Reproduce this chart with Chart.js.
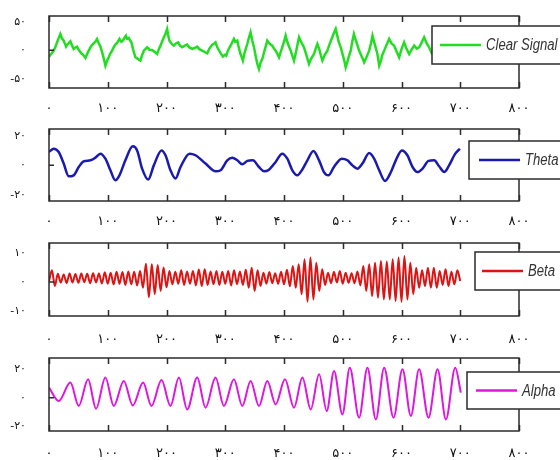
<!DOCTYPE html>
<html>
<head>
<meta charset="utf-8">
<script src="https://cdn.jsdelivr.net/npm/chart.js@4.4.0/dist/chart.umd.min.js"></script>
<style>
  body { margin: 0; background: #fff; }
  #wrap { position: relative; width: 560px; height: 460px; overflow: hidden; }
  canvas { position: absolute; left: 0; }
</style>
</head>
<body>
<div id="wrap">
  <canvas id="c1" width="560" height="118" style="top:0px"></canvas>
  <canvas id="c2" width="560" height="118" style="top:113px"></canvas>
  <canvas id="c3" width="560" height="118" style="top:227px"></canvas>
  <canvas id="c4" width="560" height="118" style="top:342px"></canvas>
</div>
<script>
// sample index on x, amplitude on y
const xTicks = [0, 100, 200, 300, 400, 500, 600, 700, 800];

const clearTicks = [-50, 0, 50];
const thetaTicks = [-20, 0, 20];
const betaTicks = [-10, 0, 10];
const alphaTicks = [-20, 0, 20];

const clearSignal = [
    [0,-11.1],[4,-6],[8,-0.6],[11,6],[13.6,13.9],[16,20],[19.3,28.5],[22,21],[25,16.8],[27,12],[29,6.4],
    [32,11],[36.4,15.7],[39,9],[42,2.3],[45,5],[47.7,6.4],[51,0],[55,-5.3],[58,-8],[62,-13.5],[66,-4],
    [70.5,5.2],[73,9],[76,12.2],[79,15],[81.8,19.8],[84,14],[87.5,6.4],[90,-2],[92,-9.4],[94,-18],[96,-26.9],
    [99,-18],[101.7,-12.3],[104,-6],[107.4,-0.6],[110,5],[113,9.9],[116,13],[119.9,19.8],[123,15],[125.6,16.8],
    [128,21],[131,25.6],[133,20],[135.8,21.5],[138,17],[140.3,13.9],[143,2],[145,-5],[147,-12.3],[151,-15],
    [155.7,-18.1],[158,-10],[161.4,-0.6],[164,2],[167,5.2],[171,1],[175.6,0.5],[180,-3],[184,-6.5],[187,2],
    [189.8,8.1],[192,14],[195.5,22.7],[198,28],[201,37.3],[203,26],[205,16.8],[209,11],[212.5,8.1],[216,12],
    [219.9,13.9],[223,8],[226.7,5.2],[231,8],[235,9.9],[239,5],[243.8,2.3],[248,4],[252.3,6.4],[256,2],
    [260.8,-0.6],[265,-3],[269.3,-5.3],[273,3],[277.8,9.9],[280,11],[283.5,13.9],[286,6],[289,0.5],[292,-5],
    [296,-11.1],[299,-8],[301.7,-9.4],[304,-2],[307.4,5.2],[311,12],[314.8,19.8],[317,15],[320.5,16.8],[323,5],
    [326,-6.5],[328,-12],[330,-18.1],[333,-4],[337.5,11],[340,21],[343,31.4],[346,17],[348.9,5.2],[351,-6],
    [353.4,-18.1],[355,-25],[357.4,-32.7],[360,-22],[363,-15.2],[367,0],[371.6,16.8],[375,12],[380,8.1],[383,3],
    [385.8,-0.6],[389,-7],[391.5,-12.3],[394,-4],[397,5.2],[400,15],[402.8,25.6],[405,17],[408,8],[411.4,-0.6],
    [414,-9],[417,-18.1],[420,-5],[423,10],[425.6,22.7],[429,15],[434,5.2],[438,-8],[442.6,-24],[446,-15],
    [451,-6.5],[454,3],[456.8,11],[460,2],[463,-10],[465.3,-18.1],[469,-9],[473.9,-0.6],[477,9],[481,19.8],
    [484,28],[488,37.3],[491,24],[493,15],[496.6,5.2],[500,-8],[503,-20],[505,-29.8],[508,-20],[510,-12],
    [513.6,-0.6],[516,14],[519,28.5],[522,18],[525,9],[527.8,-0.6],[531,-8],[534,-15],[536.4,-21],[540,-13],
    [545,-0.6],[548,12],[550.6,25.6],[553,16],[556,5],[559,-6.5],[562,-26.9],[565,-18],[567,-9],[570.5,-0.6],
    [574,8],[579,19.8],[583,12],[587.5,8.1],[592,-3],[596,-12.3],[600,2],[604.5,13.9],[608,4],[613,-6.5],
    [617,1],[621.6,8.1],[626,3],[630,5.2],[634,13],[638.6,22.7],[643,12],[647,5.2],[651,-4],[655.7,-12.3],
    [665,0],[675,12],[688,-6],[700,4]
];

const theta = [
    [0,9.0],[8,11.2],[16.5,9.0],[25,1.2],[33.5,-7.4],[42,-6.7],[50.6,-1.1],[59,2.7],[70.5,3.4],[79,5.2],
    [87.5,7.9],[96,4.5],[104.5,-3.3],[113,-10.1],[119.9,-6.7],[130,3.4],[142.6,12.8],[150,10.1],[158.5,-2.2],
    [168.8,-9.6],[178.4,0],[191.5,10.1],[198.3,6.8],[206.8,-3.3],[215.3,-8.9],[223.9,-1.1],[239.2,7.9],
    [249.4,6.8],[266.5,1.2],[283.5,-4.0],[292,-3.3],[303.4,3.4],[312,5.2],[320.5,3.4],[329,0.7],[337.5,3.0],
    [347,3.4],[357.4,-1.1],[366,-4.0],[374.4,-2.9],[385.8,2.3],[397,7.9],[405.7,4.5],[414.2,-3.3],[422.7,-6.7],
    [431,-2.9],[439.8,3.4],[450,9.7],[459.7,3.4],[468,-4.5],[475.6,-6.7],[485,-1.1],[498.3,4.5],[508,3.4],
    [516.5,0],[525,-2.2],[533.5,1.2],[545,8.3],[553.4,4.5],[562,-3.3],[572,-10.5],[582,-4.5],[590.3,3.4],
    [600.6,10.1],[610,6.8],[618.8,-1.1],[627,-4.5],[635.8,-2.2],[646,3.0],[655.7,3.4],[664,-0.6],[672.7,-4.5],
    [681,0],[691.5,7.9],[699.4,11.2]
];

// beta read as one value every 5 samples (alternating crest / trough)
const betaStep = 5;
const beta = [
    0.3,
    4.0,-1.4, 2.8,-0.2, 2.6,-0.4, 2.9,-0.2, 2.7,-0.3, 2.9,-0.1, 2.8,-0.4, 3.0,-0.2, 2.9,-0.5, 3.3,-0.6,
    3.2,-0.8, 3.5,-0.6, 3.4,-1.0, 3.6,-0.8, 3.5,-1.2, 3.8,-2.0, 6.3,-5.2, 6.1,-4.2, 5.8,-3.1, 5.0,-1.8,
    3.8,-0.8, 3.5,-0.6, 4.0,-1.0, 3.6,-0.6, 3.8,-1.2, 4.3,-1.4, 4.4,-1.0, 3.6,-0.8, 3.8,-1.0, 3.5,-0.6,
    3.8,-1.2, 4.0,-0.8, 3.6,-1.0, 4.2,-2.0, 4.9,-3.1, 4.0,-1.4, 3.2,-0.6, 3.4,-0.4, 3.0,-0.6, 3.5,-0.8,
    4.2,-1.5, 5.5,-2.0, 6.1,-4.2, 7.8,-6.8, 8.4,-6.0, 6.6,-3.1, 4.4,-1.0, 3.2,-0.4, 3.5,-0.2, 3.8,-0.6,
    3.2,-0.3, 3.0,-0.4, 3.6,-1.2, 5.5,-3.1, 6.1,-4.8, 6.6,-5.4, 7.2,-6.0, 7.0,-6.0, 7.8,-6.5, 8.4,-6.8,
    8.9,-6.0, 6.6,-4.2, 4.9,-2.0, 4.0,-1.4, 4.9,-2.0, 4.9,-2.0, 3.8,-1.0, 4.4,-1.4, 3.5,-0.8, 4.0,
    0.3
];

const alpha = [
    [0,7.0],[16.5,-2.3],[36.4,10.5],[50.6,-5.8],[66.5,12.8],[80.1,-7.7],[96,14.0],[110.2,-5.8],[127.3,11.6],
    [142.6,-5.4],[160.2,10.5],[174.4,-5.8],[191.5,12.3],[206.8,-5.8],[221,14.0],[235.2,-8.2],[252.3,14.0],
    [266.5,-7.0],[283.5,14.0],[297.7,-5.8],[314.8,12.8],[329,-5.8],[343.2,11.6],[357.4,-5.8],[371.6,11.6],
    [385.8,-4.7],[401.7,12.8],[417,-7.0],[431.3,14.0],[445.5,-8.2],[459.7,16.3],[472.7,-9.3],[485.2,18.6],
    [499.4,-11.7],[512,20.9],[527.8,-14.0],[542,20.9],[556.3,-15.2],[570.5,20.9],[586.4,-14.0],[601.7,19.8],
    [615.9,-12.8],[630,19.8],[646,-14.0],[661.4,19.8],[675.6,-15.2],[691.5,20.9],[701,3.5]
];

const faDigits = '۰۱۲۳۴۵۶۷۸۹';
function toFa(n) {
    return String(n).replace(/\d/g, d => faDigits[d]);
}

// box around the plot area + inward ticks
const framePlugin = {
    id: 'frame',
    afterDatasetsDraw(chart) {
        const { ctx, chartArea: a } = chart;
        const x = chart.scales.x, y = chart.scales.y;
        ctx.save();
        ctx.strokeStyle = '#2b2b2b';
        ctx.lineWidth = 1.5;
        ctx.strokeRect(a.left, a.top, a.right - a.left, a.bottom - a.top);
        ctx.beginPath();
        x.ticks.forEach(t => {
            const px = Math.round(x.getPixelForValue(t.value)) + 0.5;
            ctx.moveTo(px, a.top); ctx.lineTo(px, a.top + 6);
            ctx.moveTo(px, a.bottom); ctx.lineTo(px, a.bottom - 6);
        });
        const py = y.getPixelForValue(0);
        ctx.moveTo(a.left, py); ctx.lineTo(a.left + 5, py);
        ctx.stroke();
        ctx.restore();
    }
};

// legend box that runs off the right edge, like the original
const boxLegend = {
    id: 'boxLegend',
    afterDraw(chart, args, opts) {
        const ctx = chart.ctx;
        const ds = chart.data.datasets[0];
        const mid = opts.top + opts.height / 2;
        ctx.save();
        ctx.fillStyle = '#fff';
        ctx.strokeStyle = '#2b2b2b';
        ctx.lineWidth = 1.5;
        ctx.fillRect(opts.left, opts.top, 600 - opts.left, opts.height);
        ctx.strokeRect(opts.left, opts.top, 600 - opts.left, opts.height);
        ctx.strokeStyle = ds.borderColor;
        ctx.lineWidth = 2.5;
        ctx.beginPath();
        ctx.moveTo(opts.left + opts.inset, mid);
        ctx.lineTo(opts.left + opts.inset + 41, mid);
        ctx.stroke();
        ctx.translate(opts.left + opts.inset + 46, mid + 1);
        ctx.scale(0.82, 1);
        ctx.fillStyle = '#333';
        ctx.font = 'italic 16px "Liberation Sans", Arial, sans-serif';
        ctx.textBaseline = 'middle';
        ctx.fillText(ds.label, 0, 0);
        ctx.restore();
    }
};

function noPad(s) {
    s.paddingTop = 0; s.paddingBottom = 0; s.paddingLeft = 0; s.paddingRight = 0;
}

function makePanel(id, label, color, width, data, yMin, yMax, yTicks, areaH, xPad, legend, smooth) {
    return new Chart(document.getElementById(id), {
        type: 'line',
        data: {
            datasets: [{
                label: label,
                data: data,
                borderColor: color,
                borderWidth: width,
                pointRadius: 0,
                fill: false,
                cubicInterpolationMode: smooth ? 'monotone' : 'default',
                tension: 0
            }]
        },
        options: {
            responsive: false,
            animation: false,
            devicePixelRatio: 1,
            layout: { padding: { top: 16, right: 41, left: 0, bottom: 0 } },
            plugins: {
                legend: { display: false },
                tooltip: { enabled: false },
                boxLegend: legend
            },
            scales: {
                x: {
                    type: 'linear',
                    min: 0, max: 800,
                    grid: { display: false, drawTicks: false },
                    border: { display: false },
                    afterBuildTicks: s => { s.ticks = xTicks.map(v => ({ value: v })); },
                    afterFit: s => { s.height = 118 - 16 - areaH; noPad(s); },
                    ticks: {
                        autoSkip: false, maxRotation: 0, padding: xPad,
                        color: '#111',
                        font: { family: 'DejaVu Sans', size: 13 },
                        callback: v => toFa(v)
                    }
                },
                y: {
                    min: yMin, max: yMax,
                    grid: { display: false, drawTicks: false },
                    border: { display: false },
                    afterBuildTicks: s => { s.ticks = yTicks.map(v => ({ value: v })); },
                    afterFit: s => { s.width = 49; noPad(s); },
                    ticks: {
                        padding: 23,
                        color: '#111',
                        font: { family: 'DejaVu Sans', size: 11 },
                        callback: v => toFa(v)
                    }
                }
            }
        },
        plugins: [framePlugin, boxLegend]
    });
}

makePanel('c1', 'Clear Signal', '#22dd22', 2.5, clearSignal, -66, 60, clearTicks, 72, 13,
    { left: 432, top: 26, height: 38, inset: 8 }, false);
makePanel('c2', 'Theta', '#1a1ab0', 2.5, theta, -24, 24.5, thetaTicks, 72, 13,
    { left: 469, top: 28, height: 38, inset: 10 }, true);
makePanel('c3', 'Beta', '#dd1414', 2, beta.map((v, i) => [i * betaStep, v]), -11.7, 13.4, betaTicks, 73, 16,
    { left: 475, top: 25, height: 38, inset: 7 }, true);
makePanel('c4', 'Alpha', '#dd17dd', 2, alpha, -23.3, 27.7, alphaTicks, 73, 15,
    { left: 467, top: 30, height: 37, inset: 9 }, true);
</script>
</body>
</html>
